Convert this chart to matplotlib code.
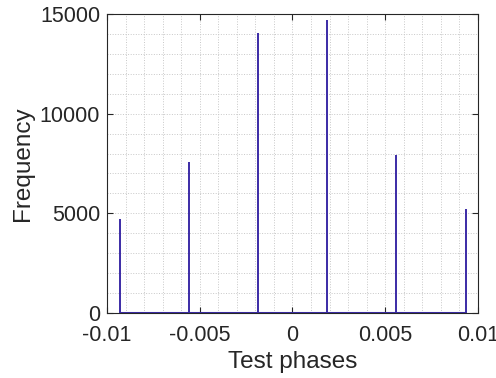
import numpy as np
import matplotlib
matplotlib.use("Agg")
from matplotlib import pyplot as plt
from matplotlib.ticker import MultipleLocator

# histogram bins (centres) and counts
phases = [-0.0093, -0.0056, -0.00188, 0.00188, 0.0056, 0.00933]
counts = [4700, 7560, 14030, 14700, 7930, 5220]

xticks = [-0.01, -0.005, 0, 0.005, 0.01]
xticklabels = ["-0.01", "-0.005", "0", "0.005", "0.01"]
yticks = [0, 5000, 10000, 15000]

plt.rcParams['font.family'] = ['Liberation Sans', 'DejaVu Sans']
dark = "#262626"
barcol = "#3b2ba6"

fig = plt.figure(figsize=(4.96, 3.78), dpi=100)
ax = fig.add_axes([0.2157, 0.172, 0.748, 0.791])

ax.vlines(phases, 0, counts, color=barcol, linewidth=1.4)
ax.hlines(0, phases[0], phases[-1], color=barcol, linewidth=2.2)

ax.set_xlim(-0.01, 0.01)
ax.set_ylim(0, 15000)
ax.set_xticks(xticks)
ax.set_xticklabels(xticklabels)
ax.set_yticks(yticks)
ax.xaxis.set_minor_locator(MultipleLocator(0.001))
ax.yaxis.set_minor_locator(MultipleLocator(1000))

ax.grid(True, which="both", linestyle=":", linewidth=0.7, color="#c8c8c8")
ax.set_axisbelow(True)

ax.tick_params(which="major", direction="in", top=True, right=True,
               length=4, width=0.8, color=dark, labelcolor=dark,
               labelsize=15.5)
ax.tick_params(axis="x", which="major", pad=9)
ax.tick_params(axis="y", which="major", pad=5)
ax.tick_params(which="minor", length=0)
for s in ax.spines.values():
    s.set_color(dark)
    s.set_linewidth(0.8)

ax.set_xlabel("Test phases", fontsize=17.5, color=dark, labelpad=3)
ax.set_ylabel("Frequency", fontsize=17.5, color=dark, labelpad=4)

fig.savefig("out.png", dpi=100)
